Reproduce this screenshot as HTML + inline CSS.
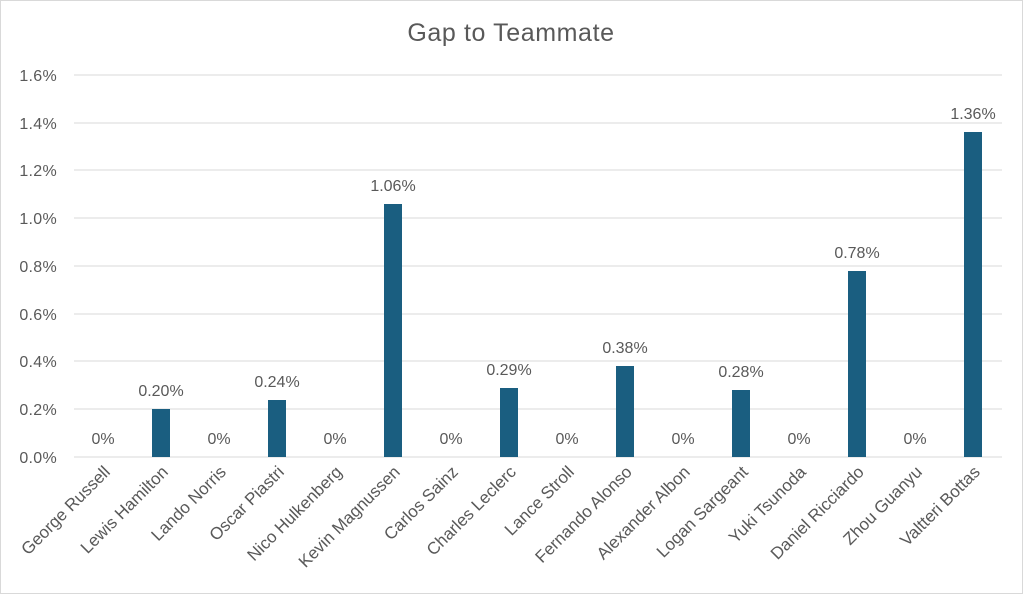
<!DOCTYPE html>
<html><head><style>
body{margin:0;background:#fff}
svg text{font-family:"Liberation Sans",sans-serif;fill:#595959}
</style></head><body>
<svg width="1023" height="594" xmlns="http://www.w3.org/2000/svg">
<rect x="0.5" y="0.5" width="1022" height="593" fill="#fff" stroke="#d9d9d9"/>
<text x="511" y="41" font-size="25" letter-spacing="0.6" text-anchor="middle">Gap to Teammate</text>
<g stroke="#d9d9d9" stroke-width="1">
<line x1="74" x2="1002" y1="75" y2="75"/><line x1="74" x2="1002" y1="123" y2="123"/>
<line x1="74" x2="1002" y1="170" y2="170"/><line x1="74" x2="1002" y1="218" y2="218"/>
<line x1="74" x2="1002" y1="266" y2="266"/><line x1="74" x2="1002" y1="314" y2="314"/>
<line x1="74" x2="1002" y1="361" y2="361"/><line x1="74" x2="1002" y1="409" y2="409"/>
<line x1="74" x2="1002" y1="457" y2="457"/>
</g>
<g font-size="16" text-anchor="end" letter-spacing="0.3">
<text x="57" y="81">1.6%</text><text x="57" y="129">1.4%</text><text x="57" y="176">1.2%</text>
<text x="57" y="224">1.0%</text><text x="57" y="272">0.8%</text><text x="57" y="320">0.6%</text>
<text x="57" y="367">0.4%</text><text x="57" y="415">0.2%</text><text x="57" y="463">0.0%</text>
</g>
<g fill="#1a5e80">
<rect x="152" y="409" width="18" height="48"/>
<rect x="268" y="400" width="18" height="57"/>
<rect x="384" y="204" width="18" height="253"/>
<rect x="500" y="388" width="18" height="69"/>
<rect x="616" y="366" width="18" height="91"/>
<rect x="732" y="390" width="18" height="67"/>
<rect x="848" y="271" width="18" height="186"/>
<rect x="964" y="132" width="18" height="325"/>
</g>
<g font-size="16" text-anchor="middle">
<text x="103" y="444">0%</text><text x="161" y="396">0.20%</text>
<text x="219" y="444">0%</text><text x="277" y="387">0.24%</text>
<text x="335" y="444">0%</text><text x="393" y="191">1.06%</text>
<text x="451" y="444">0%</text><text x="509" y="375">0.29%</text>
<text x="567" y="444">0%</text><text x="625" y="353">0.38%</text>
<text x="683" y="444">0%</text><text x="741" y="377">0.28%</text>
<text x="799" y="444">0%</text><text x="857" y="258">0.78%</text>
<text x="915" y="444">0%</text><text x="973" y="119">1.36%</text>
</g>
<g font-size="17" text-anchor="end">
<text transform="translate(111,473) rotate(-45)">George Russell</text>
<text transform="translate(169,473) rotate(-45)">Lewis Hamilton</text>
<text transform="translate(227,473) rotate(-45)">Lando Norris</text>
<text transform="translate(285,473) rotate(-45)">Oscar Piastri</text>
<text transform="translate(343,473) rotate(-45)">Nico Hulkenberg</text>
<text transform="translate(401,473) rotate(-45)">Kevin Magnussen</text>
<text transform="translate(459,473) rotate(-45)">Carlos Sainz</text>
<text transform="translate(517,473) rotate(-45)">Charles Leclerc</text>
<text transform="translate(575,473) rotate(-45)">Lance Stroll</text>
<text transform="translate(633,473) rotate(-45)">Fernando Alonso</text>
<text transform="translate(691,473) rotate(-45)">Alexander Albon</text>
<text transform="translate(749,473) rotate(-45)">Logan Sargeant</text>
<text transform="translate(807,473) rotate(-45)">Yuki Tsunoda</text>
<text transform="translate(865,473) rotate(-45)">Daniel Ricciardo</text>
<text transform="translate(923,473) rotate(-45)">Zhou Guanyu</text>
<text transform="translate(981,473) rotate(-45)">Valtteri Bottas</text>
</g>
</svg>
</body></html>
